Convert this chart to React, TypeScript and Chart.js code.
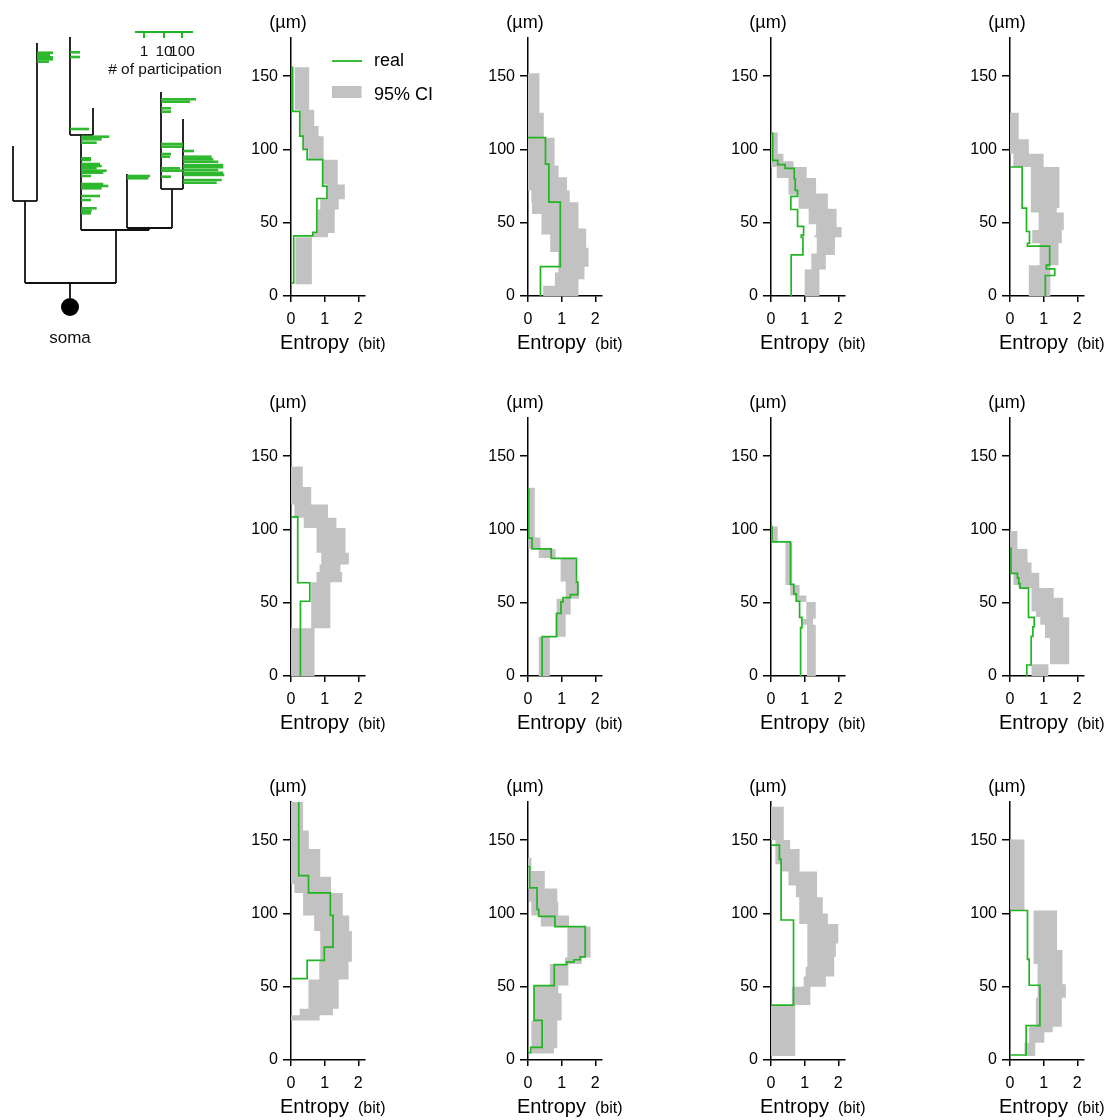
import React, { useEffect, useRef } from "react";
import { Chart, registerables } from "chart.js";
Chart.register(...registerables);

const FONT = "'Liberation Sans', Arial, sans-serif";
const GREEN = "#22b422";
const GREEN_BAR = "rgba(30,178,30,0.92)";
const GRAY = "#c2c2c2";
const BLACK = "#111111";

// ---------- panel axes ----------
const Y_TICKS = [0, 50, 100, 150];
const X_TICKS = [0, 1, 2];
const Y_MAX = 176;
const X_MAX = 2.2;

// ---------- 95% CI band per panel: edges (µm, descending), lower / upper entropy per interval ----------
const BAND_EDGES = [
  [156, 127, 116, 109, 100, 93, 76, 66, 59, 43, 40, 8],
  [152, 125, 108, 89, 81, 72, 64, 56, 46, 42, 33, 30, 20, 16, 11.5, 7, 0],
  [111.5, 97, 92, 88, 80.5, 70, 69, 59.5, 49, 47, 41.5, 40, 29, 28, 18, 0],
  [125, 107, 97, 88, 60, 57, 45, 36, 21, 0],
  [143, 129, 117, 108, 101, 84, 76, 71, 64, 32.5, 0],
  [128.5, 94.5, 86.6, 80.5, 64.5, 52.7, 42, 26.7, 0],
  [102, 91, 62, 55, 50.5, 39, 35, 0],
  [99, 86.6, 77.5, 70.5, 62, 60, 53.4, 44, 40, 35, 26, 8, 0],
  [177, 156.6, 144, 125, 120, 114, 98.6, 88, 67, 55, 35, 30.6, 27],
  [138, 129, 117, 108, 98.6, 91, 70, 65.5, 50.8, 45.6, 27, 8, 4.5],
  [172.7, 150, 144, 133.6, 128.6, 119, 111, 100, 92.7, 79.5, 70.5, 63.6, 57, 50, 37.5, 2.7],
  [150.5, 102, 75, 65.5, 51.6, 42.5, 22.7, 19, 11.8, 2.7],
];
const BAND_LO = [
  [0.11, 0.26, 0.26, 0.38, 0.52, 0.95, 1.09, 0.87, 0.8, 0.65, 0.13],
  [0, 0, 0, 0, 0, 0.1, 0.12, 0.4, 0.4, 0.66, 0.66, 0.9, 0.9, 0.8, 0.8, 0.45],
  [0, 0, 0, 0.17, 0.52, 0.52, 0.82, 1.12, 1.34, 1.34, 1.29, 1.36, 1.2, 1.2, 1.0],
  [0, 0, 0.1, 0.62, 0.62, 0.85, 0.66, 0.88, 0.56],
  [0, 0, 0.1, 0.38, 0.76, 0.9, 0.85, 0.76, 0.6, 0],
  [0, 0.02, 0.32, 0.97, 1.12, 0.85, 0.82, 0.32],
  [0, 0.43, 0.57, 0.75, 1.05, 0.95, 1.07],
  [0, 0, 0.02, 0.1, 0.25, 0.64, 0.64, 0.77, 0.9, 1.04, 1.19, 0.64],
  [0, 0, 0, 0, 0.1, 0.36, 0.69, 0.87, 0.84, 0.52, 0.26, 0],
  [0, 0, 0.03, 0.1, 0.38, 1.17, 1.1, 0.65, 0.18, 0.18, 0.1, 0.1],
  [0, 0.13, 0.13, 0.3, 0.52, 0.74, 0.84, 0.84, 1.08, 1.08, 1.08, 1.03, 0.97, 0.62, 0],
  [0, 0.7, 0.7, 0.82, 0.82, 0.77, 0.57, 0.57, 0.43],
];
const BAND_HI = [
  [0.54, 0.69, 0.82, 0.97, 0.97, 1.39, 1.6, 1.42, 1.3, 1.1, 0.62],
  [0.34, 0.47, 0.79, 0.91, 1.16, 1.24, 1.5, 1.5, 1.73, 1.73, 1.8, 1.8, 1.68, 1.68, 1.5, 1.5],
  [0.2, 0.37, 0.67, 1.06, 1.34, 1.69, 1.69, 1.95, 1.95, 2.1, 2.1, 1.9, 1.9, 1.63, 1.44],
  [0.26, 0.56, 1.0, 1.47, 1.39, 1.6, 1.54, 1.44, 1.2],
  [0.35, 0.6, 1.1, 1.35, 1.62, 1.72, 1.47, 1.52, 1.17, 0.7],
  [0.2, 0.37, 0.82, 1.42, 1.52, 1.27, 1.12, 0.65],
  [0.2, 0.63, 0.85, 1.05, 1.33, 1.25, 1.33],
  [0.22, 0.52, 0.64, 0.87, 0.87, 1.3, 1.58, 1.58, 1.76, 1.76, 1.76, 1.14],
  [0.36, 0.53, 0.87, 1.19, 1.19, 1.54, 1.73, 1.81, 1.71, 1.42, 1.25, 0.85],
  [0.1, 0.5, 0.87, 0.9, 1.22, 1.86, 1.6, 1.2, 0.9, 1.0, 0.87, 0.77],
  [0.38, 0.57, 0.85, 0.85, 1.37, 1.37, 1.54, 1.69, 2.0, 1.93, 1.88, 1.88, 1.63, 1.17, 0.72],
  [0.43, 1.4, 1.56, 1.56, 1.66, 1.54, 1.27, 1.02, 0.75],
];

// ---------- real entropy (step profile) per panel ----------
const REAL_EDGES = [
  [156, 126, 109, 100, 93, 75, 66.5, 43.5, 41, 9],
  [108, 90, 64, 20, 0],
  [111, 92.5, 89.6, 87, 80, 72, 68, 59, 47.5, 41.5, 40, 28, 0],
  [88, 60, 44, 36, 34, 21, 18.5, 14, 0],
  [108.5, 63.6, 51, 0],
  [128, 94, 86.7, 80.3, 64, 55.5, 53.5, 50.5, 42.7, 26.8, 0],
  [102, 91.5, 62.5, 56, 51, 40, 33, 0],
  [87, 70, 67, 63, 60, 40, 33.6, 27, 7.5, 0],
  [177, 125.8, 114, 98.6, 77, 68, 55.5],
  [132, 117.4, 102.7, 98, 91, 70.4, 68.4, 67, 65, 50.8, 27, 8.6, 5],
  [146.6, 136.8, 95.5, 37.5],
  [102, 68.6, 51, 23.4, 3.4],
];
const REAL_VALUES = [
  [0.05, 0.26, 0.36, 0.48, 0.94, 1.07, 0.77, 0.65, 0.08],
  [0.52, 0.62, 0.96, 0.37],
  [0.05, 0.2, 0.42, 0.69, 0.72, 0.79, 0.59, 0.79, 0.97, 0.9, 0.95, 0.6],
  [0.36, 0.49, 0.58, 0.52, 1.18, 1.08, 1.33, 1.05],
  [0.2, 0.56, 0.28],
  [0.02, 0.12, 0.69, 1.44, 1.48, 1.26, 1.04, 0.98, 0.85, 0.42],
  [0.03, 0.58, 0.68, 0.75, 0.85, 0.92, 0.88],
  [0.03, 0.22, 0.26, 0.3, 0.55, 0.72, 0.68, 0.63, 0.5],
  [0.23, 0.52, 1.17, 1.25, 0.99, 0.48],
  [0.05, 0.27, 0.32, 0.8, 1.7, 1.55, 1.37, 1.15, 0.78, 0.18, 0.42, 0.08],
  [0.25, 0.3, 0.67],
  [0.52, 0.57, 0.89, 0.48],
];

const LEGEND_LABELS = ["real", "95% CI"];

// ---------- dendrogram (tree units) ----------
const TREE_VERTICAL = [
  [70, 283, 298], [25, 201, 283], [13, 146, 201], [37, 43, 201], [116, 230, 283],
  [81, 135, 230], [70, 37, 135], [93, 108, 135], [149, 228, 230], [127, 174, 228],
  [172, 189, 228], [161, 92, 189], [183, 119, 189],
];
const TREE_HORIZONTAL = [
  [283, 25, 116], [201, 13, 37], [230, 81, 149], [135, 70, 93], [228, 127, 172], [189, 161, 183],
];
const SOMA = [70, 307];
// participation bars: [branch x, height, bar end]
const PARTICIPATION = [
  [37, 52.7, 53], [37, 55, 50], [37, 57.3, 53], [37, 59.3, 53], [37, 61.7, 49],
  [70, 52.3, 80], [70, 57, 80], [70, 129, 89],
  [81, 136.7, 109.3], [81, 139.3, 101.7], [81, 142.7, 96.7], [81, 158.3, 91], [81, 160, 91],
  [81, 164, 100], [81, 166, 101.7], [81, 168.3, 96.7], [81, 170.7, 106.7], [81, 172.7, 103.3],
  [81, 176, 91], [81, 184, 103.3], [81, 186, 108.3], [81, 188.3, 101.7], [81, 196, 100],
  [81, 200, 91], [81, 208.3, 96.7], [81, 210.7, 91.7], [81, 213.3, 91],
  [127, 176, 150], [127, 178.3, 148.3],
  [161, 99.3, 196], [161, 101.7, 190], [161, 108.3, 171], [161, 111.7, 171], [161, 144, 183],
  [161, 146.7, 183], [161, 154, 171], [161, 156.7, 170], [161, 168.3, 180], [161, 170.7, 183],
  [161, 176.7, 171],
  [183, 151, 194], [183, 156.7, 211.7], [183, 159.3, 213.3], [183, 161.7, 218.3], [183, 165, 223.3],
  [183, 167.3, 223.3], [183, 170, 218.3], [183, 172.7, 223.3], [183, 175, 224.3], [183, 180, 221.7],
  [183, 182.7, 216.7],
];
const SCALE_BAR = [135, 193, 32];
const SCALE_TICKS = [144, 164, 182];
const SCALE_LABELS = ["1", "10", "100"];

// ---------- layout ----------
const COL_X = [291, 528, 771, 1010];
const ROW_Y0 = [296, 676, 1060];
const AREA_W = 74;
const AREA_H = 258;
const PAD_TOP = 40;
const PAD_RIGHT = 100;
const PAD_BOTTOM = 35;
const YAXIS_W = 50;
const XAXIS_H = 30;

function bandPolygon(edges: number[], lo: number[], hi: number[]) {
  const pts: { x: number; y: number }[] = [];
  for (let i = 0; i < lo.length; i++) {
    pts.push({ x: lo[i], y: edges[i] }, { x: lo[i], y: edges[i + 1] });
  }
  for (let i = hi.length - 1; i >= 0; i--) {
    pts.push({ x: hi[i], y: edges[i + 1] }, { x: hi[i], y: edges[i] });
  }
  return pts;
}

function realLine(edges: number[], vals: number[]) {
  const pts: { x: number; y: number }[] = [{ x: 0, y: edges[0] }];
  for (let i = 0; i < vals.length; i++) {
    pts.push({ x: vals[i], y: edges[i] }, { x: vals[i], y: edges[i + 1] });
  }
  if (edges[edges.length - 1] > 0) pts.push({ x: 0, y: edges[edges.length - 1] });
  return pts;
}

function axisOpts(min: number, max: number, ticks: number[], tl: number, pad: number, horizontal: boolean) {
  return {
    type: "linear" as const,
    min,
    max,
    z: 1,
    afterBuildTicks: (s: any) => {
      s.ticks = ticks.map((v) => ({ value: v }));
    },
    afterFit: (s: any) => {
      if (horizontal) s.height = XAXIS_H;
      else s.width = YAXIS_W;
    },
    grid: {
      display: true,
      drawOnChartArea: false,
      drawTicks: true,
      tickLength: tl,
      color: "#000",
      lineWidth: 1.5,
    },
    border: { display: true, color: "#000", width: 1.5 },
    ticks: {
      font: { family: FONT, size: 16 },
      color: "#000",
      padding: pad,
      maxRotation: 0,
      autoSkip: false,
    },
  };
}

function Panel({ idx }: { idx: number }) {
  const ref = useRef<HTMLCanvasElement | null>(null);
  const row = Math.floor(idx / 4);
  const col = idx % 4;
  const w = YAXIS_W + AREA_W + PAD_RIGHT;
  const h = PAD_TOP + AREA_H + XAXIS_H + PAD_BOTTOM;
  const left = COL_X[col] - YAXIS_W;
  const top = ROW_Y0[row] - AREA_H - PAD_TOP;

  useEffect(() => {
    const textPlugin = {
      id: "panelText" + idx,
      afterDraw(chart: any) {
        const { ctx, chartArea: a } = chart;
        ctx.save();
        ctx.fillStyle = "#000";
        ctx.font = `18px ${FONT}`;
        ctx.textAlign = "center";
        ctx.textBaseline = "middle";
        ctx.fillText("(µm)", a.left - 3, a.top - 15);
        ctx.textAlign = "left";
        ctx.textBaseline = "alphabetic";
        ctx.font = `20px ${FONT}`;
        const x0 = a.left - 11;
        const yb = a.bottom + 53;
        ctx.fillText("Entropy", x0, yb);
        const tw = ctx.measureText("Entropy").width;
        ctx.font = `16px ${FONT}`;
        ctx.fillText("(bit)", x0 + tw + 9, yb);
        if (idx === 0) {
          ctx.strokeStyle = GREEN;
          ctx.lineWidth = 1.8;
          ctx.beginPath();
          ctx.moveTo(a.left + 41, a.top + 23);
          ctx.lineTo(a.left + 71, a.top + 23);
          ctx.stroke();
          ctx.fillStyle = GRAY;
          ctx.fillRect(a.left + 41, a.top + 48, 29.5, 12);
          ctx.fillStyle = "#000";
          ctx.font = `18px ${FONT}`;
          ctx.textBaseline = "middle";
          ctx.fillText(LEGEND_LABELS[0], a.left + 83, a.top + 23);
          ctx.fillText(LEGEND_LABELS[1], a.left + 83, a.top + 57);
        }
        ctx.restore();
      },
    };
    const chart = new Chart(ref.current as HTMLCanvasElement, {
      type: "scatter",
      data: {
        datasets: [
          {
            label: LEGEND_LABELS[1],
            data: bandPolygon(BAND_EDGES[idx], BAND_LO[idx], BAND_HI[idx]),
            showLine: true,
            fill: "shape",
            backgroundColor: GRAY,
            borderColor: "rgba(0,0,0,0)",
            borderWidth: 0,
            pointRadius: 0,
            order: 2,
          } as any,
          {
            label: LEGEND_LABELS[0],
            data: realLine(REAL_EDGES[idx], REAL_VALUES[idx]),
            showLine: true,
            fill: false,
            borderColor: GREEN,
            borderWidth: 1.7,
            pointRadius: 0,
            order: 1,
          } as any,
        ],
      },
      options: {
        animation: false,
        responsive: false,
        layout: { autoPadding: false, padding: { top: PAD_TOP, right: PAD_RIGHT, bottom: PAD_BOTTOM, left: 0 } },
        plugins: { legend: { display: false }, tooltip: { enabled: false } },
        scales: {
          x: axisOpts(0, X_MAX, X_TICKS, 6, 8, true),
          y: axisOpts(0, Y_MAX, Y_TICKS, 8, 5, false),
        } as any,
      } as any,
      plugins: [textPlugin],
    });
    return () => chart.destroy();
  }, []);

  return (
    <canvas
      ref={ref}
      width={w}
      height={h}
      style={{ position: "absolute", left, top, width: w, height: h }}
    />
  );
}

function Dendrogram() {
  const ref = useRef<HTMLCanvasElement | null>(null);
  useEffect(() => {
    const seg = (pts: { x: number; y: number }[], color: string, width: number) => ({
      data: pts,
      showLine: true,
      fill: false,
      borderColor: color,
      borderWidth: width,
      pointRadius: 0,
      borderCapStyle: "butt",
      clip: false,
    });
    const datasets: any[] = [];
    PARTICIPATION.forEach(([bx, y, ex]) =>
      datasets.push(seg([{ x: bx, y }, { x: ex, y }], GREEN_BAR, 2.6))
    );
    TREE_VERTICAL.forEach(([x, y1, y2]) =>
      datasets.push(seg([{ x, y: y1 }, { x, y: y2 }], BLACK, 1.8))
    );
    TREE_HORIZONTAL.forEach(([y, x1, x2]) =>
      datasets.push(seg([{ x: x1, y }, { x: x2, y }], BLACK, 1.8))
    );
    datasets.push(seg([{ x: SCALE_BAR[0], y: SCALE_BAR[2] }, { x: SCALE_BAR[1], y: SCALE_BAR[2] }], GREEN, 2));
    SCALE_TICKS.forEach((t) =>
      datasets.push(seg([{ x: t, y: SCALE_BAR[2] }, { x: t, y: SCALE_BAR[2] + 6 }], GREEN, 2))
    );
    datasets.push({
      data: [{ x: SOMA[0], y: SOMA[1] }],
      showLine: false,
      pointRadius: 9,
      pointBackgroundColor: "#000",
      pointBorderColor: "#000",
      pointBorderWidth: 0,
      clip: false,
    });
    datasets.forEach((d) => (d.order = 0));
    const textPlugin = {
      id: "dendroText",
      afterDraw(chart: any) {
        const { ctx, scales } = chart;
        const { x, y } = scales;
        ctx.save();
        ctx.fillStyle = "#111";
        ctx.textAlign = "center";
        ctx.textBaseline = "middle";
        ctx.font = `17px ${FONT}`;
        ctx.fillText("soma", x.getPixelForValue(SOMA[0]), y.getPixelForValue(338));
        ctx.font = `15.5px ${FONT}`;
        SCALE_TICKS.forEach((t, i) =>
          ctx.fillText(SCALE_LABELS[i], x.getPixelForValue(t), y.getPixelForValue(52))
        );
        ctx.fillText("# of participation", x.getPixelForValue(165), y.getPixelForValue(70));
        ctx.restore();
      },
    };
    const chart = new Chart(ref.current as HTMLCanvasElement, {
      type: "scatter",
      data: { datasets },
      options: {
        animation: false,
        responsive: false,
        layout: { autoPadding: false, padding: 0 },
        plugins: { legend: { display: false }, tooltip: { enabled: false } },
        scales: {
          x: { type: "linear", min: 0, max: 240, display: false },
          y: { type: "linear", min: 0, max: 350, reverse: true, display: false },
        },
      } as any,
      plugins: [textPlugin],
    });
    return () => chart.destroy();
  }, []);
  return (
    <canvas
      ref={ref}
      width={240}
      height={350}
      style={{ position: "absolute", left: 0, top: 0, width: 240, height: 350 }}
    />
  );
}

export default function App() {
  const panels = Array.from({ length: 12 }, (_, i) => i);
  return (
    <div
      style={{
        position: "absolute",
        left: 0,
        top: 0,
        width: 1113,
        height: 1120,
        overflow: "hidden",
        background: "#fff",
      }}
    >
      <Dendrogram />
      {panels.map((i) => (
        <Panel key={i} idx={i} />
      ))}
    </div>
  );
}
